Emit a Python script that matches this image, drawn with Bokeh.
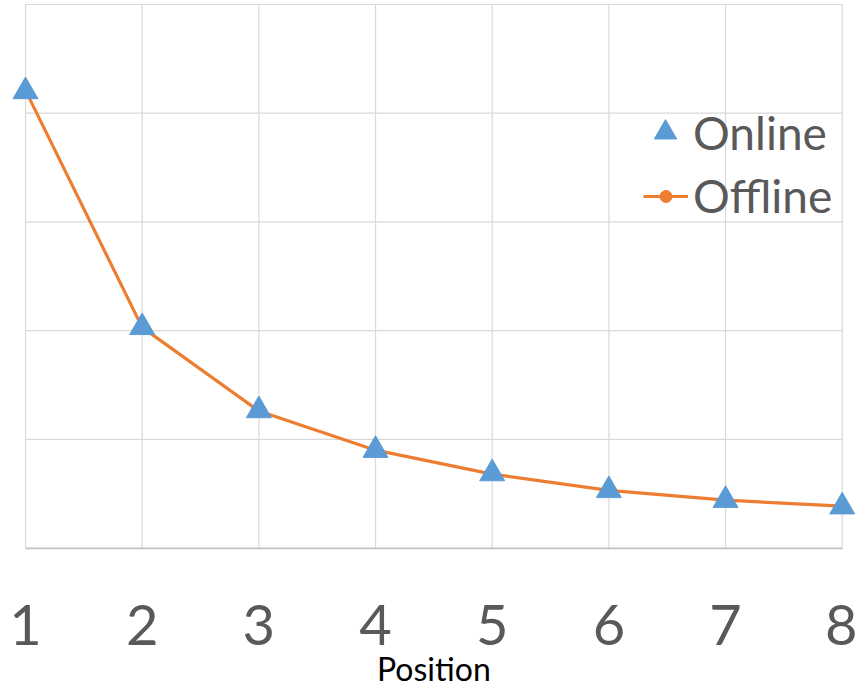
from bokeh.plotting import figure
from bokeh.models import ColumnDataSource, FixedTicker, Legend, LegendItem, Label
from bokeh.embed import file_html
from bokeh.resources import INLINE

positions = [1, 2, 3, 4, 5, 6, 7, 8]
online = [4.20, 2.03, 1.265, 0.90, 0.685, 0.53, 0.44, 0.38]
offline = [4.21, 2.03, 1.26, 0.90, 0.68, 0.53, 0.44, 0.385]
x_tick_labels = ["1", "2", "3", "4", "5", "6", "7", "8"]
y_grid_values = [0, 1, 2, 3, 4, 5]

src = ColumnDataSource(dict(x=positions, on=online, off=offline))

p = figure(width=857, height=689, x_range=(0.7857, 8.131), y_range=(-1.3017, 5.037),
           output_backend="svg", toolbar_location=None,
           min_border_left=0, min_border_right=0, min_border_top=0,
           min_border_bottom=0)
p.outline_line_color = None
p.background_fill_color = "white"
p.xgrid.visible = False
p.ygrid.visible = False

x0, x1 = positions[0], positions[-1]
y0, y1 = y_grid_values[0], y_grid_values[-1]
# gridlines bounded to the data area
p.segment(x0=[x0] * len(y_grid_values), x1=[x1] * len(y_grid_values),
          y0=y_grid_values, y1=y_grid_values, line_color="#d9d9d9", line_width=1.2)
p.segment(x0=positions, x1=positions, y0=[y0] * len(positions), y1=[y1] * len(positions),
          line_color="#d9d9d9", line_width=1.2)

line_r = p.line("x", "off", source=src, line_color="#ED7D31", line_width=3.2)
dot_r = p.scatter("x", "off", source=src, marker="circle", size=11,
                  fill_color="#ED7D31", line_color="#ED7D31")
tri_r = p.scatter("x", "on", source=src, marker="triangle", size=25,
                  fill_color="#5B9BD5", line_color="#5B9BD5")

p.yaxis.visible = False

xa = p.xaxis[0]
xa.fixed_location = 0
xa.ticker = FixedTicker(ticks=positions)
xa.bounds = (x0, x1)
xa.major_label_overrides = {x: t for x, t in zip(positions, x_tick_labels)}
xa.axis_line_color = "#bfbfbf"
xa.axis_line_width = 1.5
xa.major_tick_line_color = None
xa.minor_tick_line_color = None
xa.major_label_text_font = "Lato"
xa.major_label_text_font_size = "56px"
xa.major_label_text_color = "#595959"
xa.major_label_standoff = 51

p.add_layout(Label(x=(x0 + x1) / 2, y=-1.1086, x_units="data", y_units="data",
                   text="Position", text_font="Lato", text_font_size="32px",
                   text_color="#000000", text_align="center",
                   text_baseline="middle"))


def make_legend(items, gw, gh, standoff, loc):
    lg = Legend(items=items)
    lg.label_text_font = "Lato"
    lg.label_text_font_size = "46px"
    lg.label_text_color = "#595959"
    lg.glyph_width = gw
    lg.glyph_height = gh
    lg.label_standoff = standoff
    lg.spacing = 0
    lg.padding = 0
    lg.margin = 0
    lg.background_fill_alpha = 0
    lg.border_line_color = None
    lg.location = loc
    return lg


p.add_layout(make_legend([LegendItem(label="Online", renderers=[tri_r])],
                         56, 58, 0, (637, 528)))
p.add_layout(make_legend([LegendItem(label="Offline", renderers=[line_r, dot_r])],
                         45, 30, 5, (643, 466)))

open("out.html", "w").write(file_html(p, INLINE))
